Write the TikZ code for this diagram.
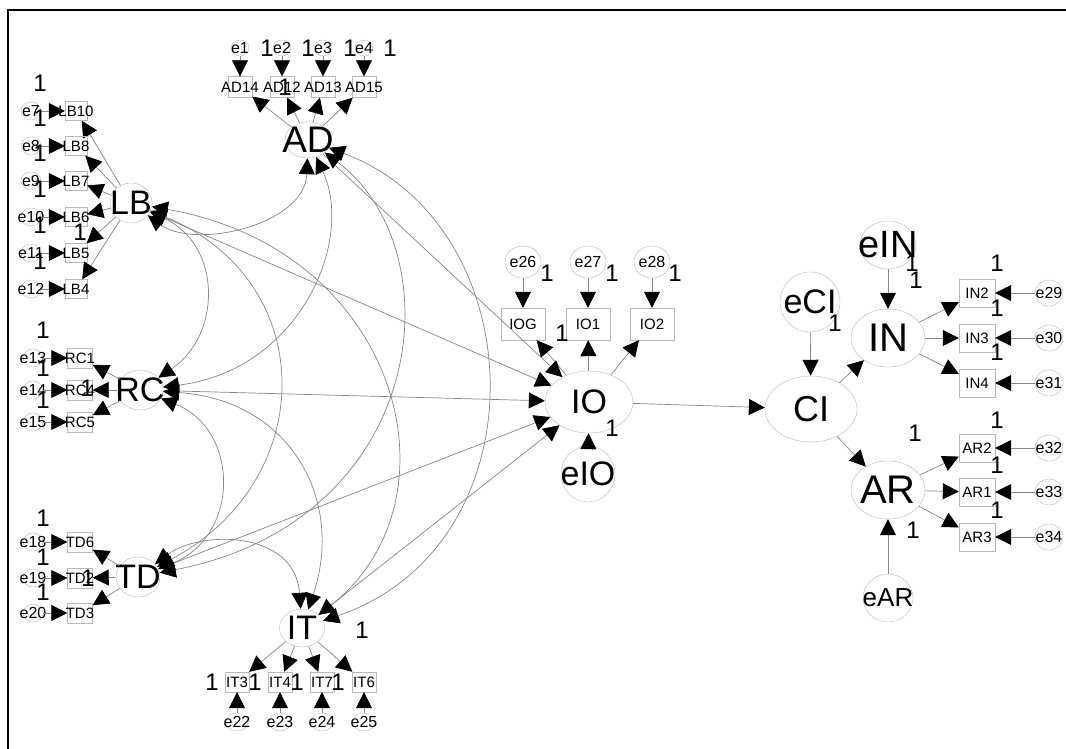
\documentclass[tikz,border=0pt]{standalone}
\usepackage{fontspec}
\setmainfont{Liberation Sans}
\usetikzlibrary{arrows.meta}
\usetikzlibrary{shapes.geometric}
\tikzset{
	latent/.style={ellipse,draw=gray!55,inner sep=0pt},
	item/.style={rectangle,draw=gray!55,inner sep=0pt,font=\fontsize{15}{15}\selectfont},
	err/.style={ellipse,draw=gray!55,inner sep=0pt,font=\fontsize{16}{16}\selectfont},
	one/.style={inner sep=0pt,font=\fontsize{24}{24}\selectfont},
	tip/.tip={Triangle[length=16pt,width=16pt,color=black]},
	edge/.style={-tip,draw=gray!95,line width=0.7pt},
	cov/.style={tip-tip,draw=gray!95,line width=0.7pt}
}
\newcommand{\lbl}[1]{\makebox[0pt]{#1}}

\begin{document}
\begin{tikzpicture}[x=1pt,y=-1pt]
		\useasboundingbox (0,0) rectangle (1066,749);
		\draw[line width=2pt] (8,749) -- (8,10) -- (1066,10);
		
		% latent variables
		\node[latent,minimum width=46pt,minimum height=36pt,font=\fontsize{37}{37}\selectfont] (AD) at (308,140) {\lbl{AD}};
		\node[latent,minimum width=42pt,minimum height=40pt,font=\fontsize{34}{34}\selectfont] (LB) at (131,203) {\lbl{LB}};
		\node[latent,minimum width=46pt,minimum height=40pt,font=\fontsize{34}{34}\selectfont] (RC) at (140,390) {\lbl{RC}};
		\node[latent,minimum width=44pt,minimum height=40pt,font=\fontsize{34}{34}\selectfont] (TD) at (138,577) {\lbl{TD}};
		\node[latent,minimum width=45pt,minimum height=38pt,font=\fontsize{34}{34}\selectfont] (IT) at (302,628) {\lbl{IT}};
		\node[latent,minimum width=88pt,minimum height=62pt,font=\fontsize{34}{34}\selectfont] (IO) at (589,402) {\lbl{IO}};
		\node[latent,minimum width=92pt,minimum height=66pt,font=\fontsize{36}{36}\selectfont] (CI) at (811,409) {\lbl{CI}};
		\node[latent,minimum width=74pt,minimum height=58pt,font=\fontsize{40}{40}\selectfont] (IN) at (888,338) {\lbl{IN}};
		\node[latent,minimum width=74pt,minimum height=58pt,font=\fontsize{40}{40}\selectfont] (AR) at (888,490) {\lbl{AR}};
		\node[latent,minimum width=54pt,minimum height=56pt,font=\fontsize{34}{34}\selectfont] (eIO) at (588,474) {\lbl{eIO}};
		\node[latent,minimum width=60pt,minimum height=60pt,font=\fontsize{34}{34}\selectfont] (eCI) at (810,302) {\lbl{eCI}};
		\node[latent,minimum width=56pt,minimum height=48pt,font=\fontsize{38}{38}\selectfont] (eIN) at (888,245) {\lbl{eIN}};
		\node[latent,minimum width=50pt,minimum height=48pt,font=\fontsize{26}{26}\selectfont] (eAR) at (888,598) {\lbl{eAR}};
		
		% AD
		\foreach \n/\e/\x in {AD14/e1/240, AD12/e2/282, AD13/e3/323, AD15/e4/364} {
			\node[item,minimum width=24pt,minimum height=21pt] (\n) at (\x,87) {\lbl{\n}};
			\node[err,minimum width=18pt,minimum height=15pt] (\e) at (\x,48) {\lbl{\e}};
			\draw[edge] (\e) -- (\n);
			\draw[edge] (AD) -- (\n);
		}
		\foreach \x in {267,308,350,390}
			\node[one] (oneAD\x) at (\x,48) {1};
		\node[one] (oneAD) at (285,87) {1};
		
		% LB
		\foreach \n/\e/\y in {LB10/e7/111, LB8/e8/146, LB7/e9/181, LB6/e10/217, LB5/e11/253, LB4/e12/289} {
			\node[item,minimum width=22pt,minimum height=19pt] (\n) at (76,\y) {\lbl{\n}};
			\node[err,minimum width=20pt,minimum height=18pt] (\e) at (31,\y) {\lbl{\e}};
			\draw[edge] (\e) -- (\n);
			\draw[edge] (LB) -- (\n);
		}
		\foreach \y in {83,118,153,189,225,261}
			\node[one] (oneLB\y) at (40,\y) {1};
		\node[one] (oneLB) at (80,232) {1};
		
		% RC
		\foreach \n/\e/\y in {RC1/e13/358, RC4/e14/390, RC5/e15/422} {
			\node[item,minimum width=25pt,minimum height=20pt] (\n) at (80,\y) {\lbl{\n}};
			\node[err,minimum width=20pt,minimum height=18pt] (\e) at (33,\y) {\lbl{\e}};
			\draw[edge] (\e) -- (\n);
			\draw[edge] (RC) -- (\n);
		}
		\foreach \y in {330,368,400}
			\node[one] (oneRC\y) at (43,\y) {1};
		\node[one] (oneRC) at (87,388) {1};
		
		% TD
		\foreach \n/\e/\y in {TD6/e18/542, TD2/e19/578, TD3/e20/613} {
			\node[item,minimum width=25pt,minimum height=20pt] (\n) at (80,\y) {\lbl{\n}};
			\node[err,minimum width=20pt,minimum height=18pt] (\e) at (33,\y) {\lbl{\e}};
			\draw[edge] (\e) -- (\n);
			\draw[edge] (TD) -- (\n);
		}
		\foreach \y in {518,557,592}
			\node[one] (oneTD\y) at (43,\y) {1};
		\node[one] (oneTD) at (88,578) {1};
		
		% IT
		\foreach \n/\e/\x in {IT3/e22/237, IT4/e23/280, IT7/e24/322, IT6/e25/364} {
			\node[item,minimum width=24pt,minimum height=20pt] (\n) at (\x,682) {\lbl{\n}};
			\node[err,minimum width=22pt,minimum height=18pt] (\e) at (\x,722) {\lbl{\e}};
			\draw[edge] (\e) -- (\n);
			\draw[edge] (IT) -- (\n);
		}
		\foreach \x in {212,255,297,338}
			\node[one] (oneIT\x) at (\x,682) {1};
		\node[one] (oneIT) at (362,630) {1};
		
		% IO
		\foreach \n/\e/\x in {IOG/e26/523, IO1/e27/588, IO2/e28/652} {
			\node[item,minimum width=44pt,minimum height=32pt] (\n) at (\x,324) {\lbl{\n}};
			\node[err,minimum width=36pt,minimum height=32pt] (\e) at (\x,262) {\lbl{\e}};
			\draw[edge] (\e) -- (\n);
			\draw[edge] (IO) -- (\n);
		}
		\foreach \x in {547,612,675}
			\node[one] (oneIO\x) at (\x,273) {1};
		\node[one] (oneIO) at (562,333) {1};
		\node[one] (oneeIO) at (612,428) {1};
		
		% IN and AR
		\foreach \n/\e/\y in {IN2/e29/293, IN3/e30/338, IN4/e31/383} {
			\node[item,minimum width=36pt,minimum height=28pt] (\n) at (977,\y) {\lbl{\n}};
			\node[err,minimum width=28pt,minimum height=26pt] (\e) at (1049,\y) {\lbl{\e}};
			\draw[edge] (\e) -- (\n);
			\draw[edge] (IN) -- (\n);
		}
		\foreach \n/\e/\y in {AR2/e32/448, AR1/e33/492, AR3/e34/537} {
			\node[item,minimum width=36pt,minimum height=28pt] (\n) at (977,\y) {\lbl{\n}};
			\node[err,minimum width=28pt,minimum height=26pt] (\e) at (1049,\y) {\lbl{\e}};
			\draw[edge] (\e) -- (\n);
			\draw[edge] (AR) -- (\n);
		}
		\foreach \y in {263,308,352,420,465,510}
			\node[one] (oneR\y) at (997,\y) {1};
		\node[one] (oneAR) at (915,433) {1};
		\node[one] (oneeAR) at (913,530) {1};
		\node[one] (oneeCI) at (835,323) {1};
		\node[one] (oneeIN) at (912,263) {1};
		\node[one] (oneIN) at (916,280) {1};
		
		% structural paths
		\foreach \s in {LB,AD,RC,TD,IT}
			\draw[edge] (\s) -- (IO);
		\draw[edge] (eIO) -- (IO);
		\draw[edge] (IO) -- (CI);
		\draw[edge] (eCI) -- (CI);
		\draw[edge] (CI) -- (IN);
		\draw[edge] (CI) -- (AR);
		\draw[edge] (eIN) -- (IN);
		\draw[edge] (eAR) -- (AR);
		
		% covariances
		\draw[cov] (LB) .. controls (195,250) and (305,225) .. (AD);
		\draw[cov] (LB) .. controls (222,245) and (222,335) .. (RC);
		\draw[cov] (RC) .. controls (240,430) and (240,536) .. (TD);
		\draw[cov] (TD) .. controls (200,530) and (295,530) .. (IT);
		\draw[cov] (LB) .. controls (320,280) and (320,480) .. (TD);
		\draw[cov] (LB) .. controls (400,250) and (465,500) .. (IT);
		\draw[cov] (AD) .. controls (355,240) and (300,370) .. (RC);
		\draw[cov] (AD) .. controls (455,250) and (430,520) .. (TD);
		\draw[cov] (AD) .. controls (535,225) and (545,545) .. (IT);
		\draw[cov] (RC) .. controls (290,400) and (345,500) .. (IT);
\end{tikzpicture}
\end{document}
